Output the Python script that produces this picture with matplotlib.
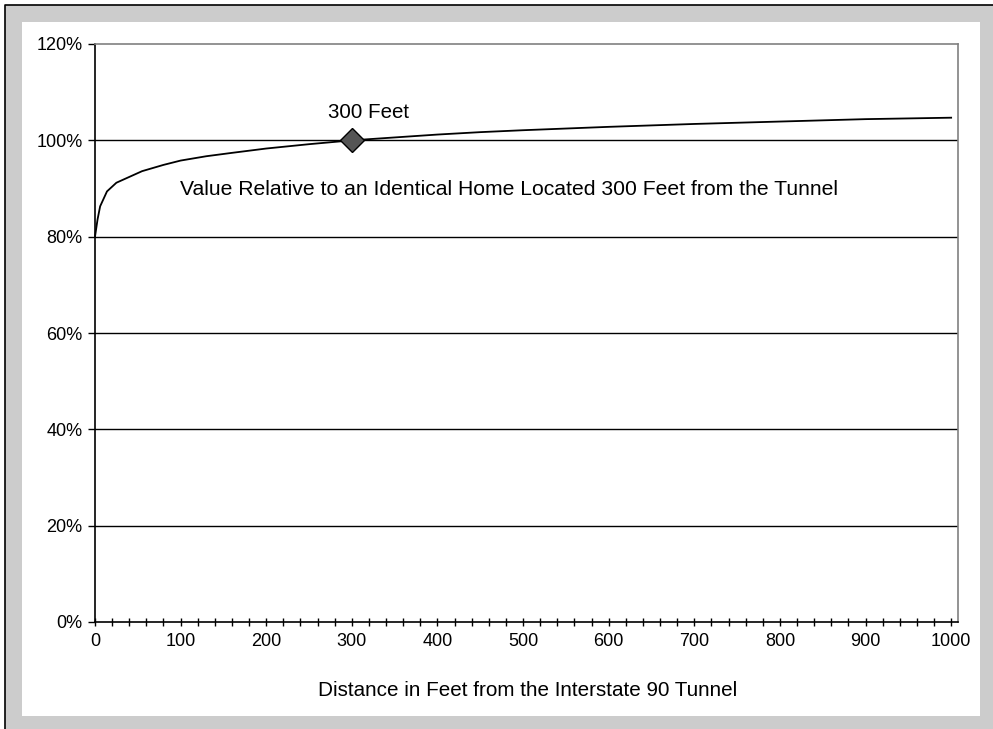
import matplotlib
matplotlib.use("Agg")
import matplotlib.pyplot as plt
from matplotlib.patches import Rectangle
from matplotlib.lines import Line2D
from matplotlib.ticker import FuncFormatter

plt.rcParams['font.family'] = ['Liberation Sans', 'DejaVu Sans']

# Data
distance_ft = [0, 3, 6, 14, 25, 40, 55, 80, 100, 130, 160, 200, 250, 300,
               350, 400, 450, 500, 600, 700, 800, 900, 1000]
relative_value = [0.800, 0.836, 0.863, 0.894, 0.912, 0.924, 0.936, 0.949, 0.958,
                  0.967, 0.974, 0.983, 0.992, 1.000, 1.006, 1.012, 1.017, 1.021,
                  1.028, 1.034, 1.039, 1.044, 1.047]
marker_x = [300]
marker_y = [1.00]
marker_label = "300 Feet"
note_text = "Value Relative to an Identical Home Located 300 Feet from the Tunnel"
x_label = "Distance in Feet from the Interstate 90 Tunnel"
y_ticks = [0, 0.2, 0.4, 0.6, 0.8, 1.0, 1.2]
x_major_ticks = list(range(0, 1001, 100))
x_minor_ticks = list(range(0, 1001, 20))

W, H = 993, 729
fig = plt.figure(figsize=(W / 100, H / 100), dpi=100)
fig.patch.set_facecolor('white')

def fx(px):
    return px / W

def fy(py):
    return 1 - py / H

# gray frame and white panel
fig.patches.append(Rectangle((fx(5), 0), 1 - fx(5), fy(5), transform=fig.transFigure,
                             facecolor='#cccccc', edgecolor='none', zorder=0))
fig.lines.append(Line2D([fx(5), fx(5), 1], [0, fy(5), fy(5)], transform=fig.transFigure,
                        color='black', lw=1.2, zorder=1))
fig.patches.append(Rectangle((fx(22), fy(716)), fx(980) - fx(22), fy(22) - fy(716),
                             transform=fig.transFigure, facecolor='white',
                             edgecolor='none', zorder=1))

ax = fig.add_axes([fx(95), fy(622), fx(958) - fx(95), fy(44) - fy(622)])
ax.set_zorder(2)
ax.set_facecolor('white')
ax.set_xlim(0, 1008)
ax.set_ylim(0, 1.2)

for s in ['top', 'right']:
    ax.spines[s].set_color('#808080')
    ax.spines[s].set_linewidth(1.2)
for s in ['left', 'bottom']:
    ax.spines[s].set_color('black')
    ax.spines[s].set_linewidth(1.2)

ax.set_yticks(y_ticks)
ax.yaxis.set_major_formatter(FuncFormatter(lambda v, p: f"{v:.0%}"))
ax.tick_params(axis='y', direction='out', length=5, width=1, pad=4, labelsize=13, colors='black')
for yv in y_ticks[1:-1]:
    ax.axhline(yv, color='black', lw=1.0, zorder=1)

ax.set_xticks(x_major_ticks)
ax.set_xticks(x_minor_ticks, minor=True)
ax.tick_params(axis='x', which='both', direction='inout', length=6, width=1, labelsize=13, pad=5)

ax.plot(distance_ft, relative_value, color='black', lw=1.3, zorder=3, clip_on=False)
ax.plot(marker_x, marker_y, marker='D', markersize=12, markerfacecolor='#555555',
        markeredgecolor='black', markeredgewidth=1, linestyle='none', zorder=4)
ax.text(319, 1.057, marker_label, ha='center', va='center', fontsize=14.8)
ax.text(484, 0.897, note_text, ha='center', va='center', fontsize=15.2)

fig.text(fx(528), fy(690), x_label, ha='center', va='center', fontsize=14.9)

fig.savefig('out.png', dpi=100, facecolor=fig.get_facecolor())
